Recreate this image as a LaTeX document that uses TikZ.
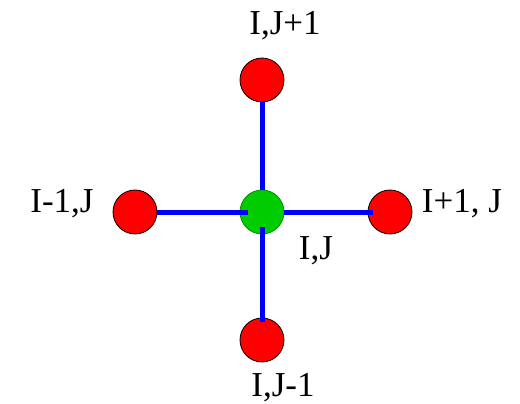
\documentclass[tikz,border=0pt]{standalone}
\usepackage{fontspec}
\setmainfont{Liberation Serif}
\usepackage{tikz}
\usetikzlibrary{positioning}
\usepackage{xcolor}
\definecolor{ptred}{RGB}{255,0,0}
\definecolor{ptgreen}{RGB}{0,204,0}
\definecolor{ptblue}{RGB}{0,0,255}

\begin{document}
\begin{tikzpicture}[x=1pt,y=-1pt,
  nbr/.style={circle,draw=black,line width=0.8pt,fill=ptred,minimum size=44pt,inner sep=0pt},
  ctr/.style={circle,draw=ptgreen!70!black,line width=0.8pt,fill=ptgreen,minimum size=44pt,inner sep=0pt},
  link/.style={draw=ptblue,line width=5pt},
  lab/.style={anchor=base,inner sep=0pt,font=\fontsize{35}{36}\selectfont}]
\useasboundingbox (0,0) rectangle (520,404);
\node[ctr] (c) at (262,212) {};
\node[nbr] (t) at (262,80) {};
\node[nbr] (l) at (135,212) {};
\node[nbr] (r) at (390,212) {};
\node[nbr] (b) at (262,340) {};
\draw[link] (t) -- (c);
\draw[link,shorten >=-8pt] (l) -- (c);
\draw[link,shorten >=-5pt] (c) -- (r);
\draw[link,shorten <=-7pt,shorten >=-4pt] (c) -- (b);
\node[lab] (tl) at (285,35) {I,J+1};
\node[lab] (ll) at (62,212) {I-1,J};
\node[lab] (rl) at (462,212) {I+1, J};
\node[lab] (cl) at (316,259) {I,J};
\node[lab] (bl) at (283,396) {I,J-1};
\end{tikzpicture}
\end{document}
